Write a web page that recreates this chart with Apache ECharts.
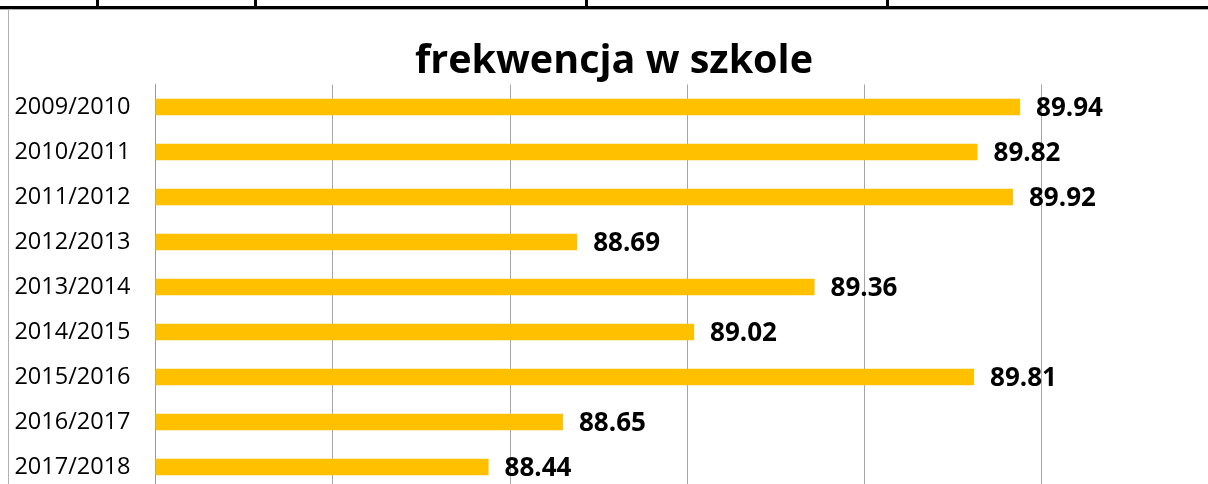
<!DOCTYPE html>
<html lang="pl">
  <head>
    <meta charset="UTF-8" />
    <title>frekwencja w szkole</title>
    <script src="https://cdn.jsdelivr.net/npm/echarts@6/dist/echarts.min.js"></script>
    <style>
      html, body { margin: 0; padding: 0; background: #fff; }
      #chart { width: 1208px; height: 484px; }
    </style>
  </head>
  <body>
    <div id="chart"></div>
    <script>
      const years = ['2009/2010', '2010/2011', '2011/2012', '2012/2013', '2013/2014',
        '2014/2015', '2015/2016', '2016/2017', '2017/2018'];
      const attendance = [89.94, 89.82, 89.92, 88.69, 89.36, 89.02, 89.81, 88.65, 88.44];

      const myChart = echarts.init(document.getElementById('chart'));
      const option = {
        animation: false,
        title: {
          text: 'frekwencja w szkole',
          left: 410,
          top: 37,
          textStyle: {
            fontFamily: 'Open Sans',
            fontWeight: 'bold',
            fontSize: 39.5,
            color: '#000'
          }
        },
        grid: {
          left: 155.5,
          top: 84.5,
          width: 1063,
          height: 405,
          outerBoundsMode: 'none'
        },
        xAxis: {
          type: 'value',
          min: 87.5,
          max: 90.5,
          interval: 0.5,
          axisLabel: { show: false },
          axisLine: { show: false },
          axisTick: { show: false },
          splitLine: { lineStyle: { color: '#a6a6a6', width: 1 } }
        },
        yAxis: {
          type: 'category',
          data: years,
          inverse: true,
          axisLine: { lineStyle: { color: '#9a9a9a' } },
          axisTick: { length: 7, lineStyle: { color: '#9a9a9a' } },
          axisLabel: {
            margin: 25,
            fontFamily: 'Open Sans',
            fontSize: 23.5,
            color: '#000'
          }
        },
        series: [
          {
            type: 'bar',
            data: attendance,
            barWidth: 16.5,
            itemStyle: { color: '#ffc000' },
            label: {
              show: true,
              position: 'right',
              distance: 16,
              offset: [0, 2],
              fontFamily: 'Open Sans',
              fontWeight: 'bold',
              fontSize: 26,
              color: '#000',
              formatter: function (p) {
                return p.value.toFixed(2);
              }
            }
          }
        ],
        graphic: [
          { type: 'rect', shape: { x: 0, y: 6, width: 1208, height: 3 }, style: { fill: '#000' } },
          { type: 'line', shape: { x1: 0, y1: 9.5, x2: 1208, y2: 9.5 }, style: { stroke: '#b0b0b0', lineWidth: 1 } },
          { type: 'line', shape: { x1: 8.5, y1: 9, x2: 8.5, y2: 484 }, style: { stroke: '#b0b0b0', lineWidth: 1 } },
          { type: 'rect', shape: { x: 96, y: 0, width: 3, height: 7 }, style: { fill: '#000' } },
          { type: 'rect', shape: { x: 254, y: 0, width: 3, height: 7 }, style: { fill: '#000' } },
          { type: 'rect', shape: { x: 585, y: 0, width: 3, height: 7 }, style: { fill: '#000' } },
          { type: 'rect', shape: { x: 886, y: 0, width: 3, height: 7 }, style: { fill: '#000' } }
        ]
      };
      myChart.setOption(option);
    </script>
  </body>
</html>
